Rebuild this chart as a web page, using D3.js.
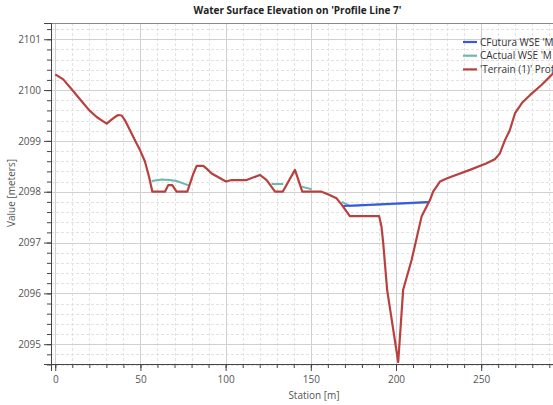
<!DOCTYPE html>
<html><head><meta charset="utf-8">
<script src="https://cdn.jsdelivr.net/npm/d3@7"></script>
<style>
html,body{margin:0;padding:0;background:#fff;}
svg{display:block;font-family:"Open Sans","Noto Sans",sans-serif;}
</style></head>
<body>
<svg id="chart" width="553" height="405"></svg>
<script>
const terrainX = [0,4.7,10,15,20,24.3,27,30.2,33,35,37,39,41,44,47,50,52.6,55,57,64.4,66.3,68.7,71.2,77.5,81,83,86.9,89,91.8,96,100.2,103.5,112.3,120.1,124.1,129,133.5,140.7,145,156.3,160,165.1,168,172.9,190.1,191.5,192.5,194.8,201.3,204.2,209.2,215,220,221.8,225.8,229.7,233.6,243.4,253.2,258,260.9,263.9,266.8,269.8,274,278.6,285.4,292.3];
const terrainY = [2100.31,2100.21,2100.0,2099.8,2099.6,2099.47,2099.41,2099.34,2099.42,2099.47,2099.51,2099.5,2099.4,2099.2,2099.0,2098.8,2098.6,2098.3,2098.0,2098.0,2098.13,2098.13,2098.0,2098.0,2098.35,2098.51,2098.51,2098.45,2098.36,2098.28,2098.2,2098.23,2098.23,2098.33,2098.23,2098.0,2098.0,2098.43,2098.0,2098.0,2097.95,2097.87,2097.75,2097.52,2097.52,2097.31,2096.99,2096.07,2094.65,2096.07,2096.66,2097.51,2097.84,2098.0,2098.2,2098.26,2098.31,2098.43,2098.56,2098.64,2098.75,2099.01,2099.21,2099.54,2099.75,2099.9,2100.1,2100.33];
const actualX = [56.6,62.4,67,71.2,78.7,null,127,133.8,null,144.6,150.4,null,168.2,172.9,219];
const actualY = [2098.21,2098.24,2098.23,2098.21,2098.12,null,2098.15,2098.15,null,2098.1,2098.05,null,2097.80,2097.72,2097.79];
const futuraX = [169,219];
const futuraY = [2097.72,2097.80];
const xTicks = [0,50,100,150,200,250];
const yTicks = [2095,2096,2097,2098,2099,2100,2101];
const seriesNames = ["CFutura WSE 'M","CActual WSE 'M","'Terrain (1)' Prof"];
const seriesColors = ["#3b55e6","#6fb5b0","#b8413f"];

const svg = d3.select("#chart");
const L = 51, R = 557, T = 23, B = 364;
const x = d3.scaleLinear().domain([-2.5, 294.5]).range([L, R]);
const y = d3.scaleLinear().domain([2094.61, 2101.32]).range([B, T]);

svg.append("defs").append("clipPath").attr("id","clip")
  .append("rect").attr("x",L).attr("y",T).attr("width",R-L).attr("height",B-T);

const grid = svg.append("g");
// minor grid
const xMinor = d3.range(0, 300, 10).filter(v => v % 50 !== 0);
const yMinor = d3.range(2094.6, 2101.35, 0.2).map(v => +v.toFixed(1)).filter(v => Math.abs(v - Math.round(v)) > 0.01);
grid.selectAll(".vx").data(xMinor).join("line")
  .attr("x1", d => Math.round(x(d))+0.5).attr("x2", d => Math.round(x(d))+0.5)
  .attr("y1", T).attr("y2", B).attr("stroke","#e2e2e2").attr("stroke-dasharray","3,2");
grid.selectAll(".hy").data(yMinor).join("line")
  .attr("y1", d => Math.round(y(d))+0.5).attr("y2", d => Math.round(y(d))+0.5)
  .attr("x1", L).attr("x2", R).attr("stroke","#e2e2e2").attr("stroke-dasharray","3,2");
grid.selectAll(".vX").data(xTicks).join("line")
  .attr("x1", d => Math.round(x(d))+0.5).attr("x2", d => Math.round(x(d))+0.5)
  .attr("y1", T).attr("y2", B).attr("stroke","#d0d0d0");
grid.selectAll(".hY").data(yTicks).join("line")
  .attr("y1", d => Math.round(y(d))+0.5).attr("y2", d => Math.round(y(d))+0.5)
  .attr("x1", L).attr("x2", R).attr("stroke","#d0d0d0");

// frame top
svg.append("line").attr("x1",L).attr("x2",R).attr("y1",T+0.5).attr("y2",T+0.5).attr("stroke","#888");

// axes
const xAxisMinor = d3.axisBottom(x).tickValues(d3.range(0,300,10)).tickSize(4).tickFormat("");
const xAxis = d3.axisBottom(x).tickValues(xTicks).tickSize(7).tickPadding(5);
const yAxisMinor = d3.axisLeft(y).tickValues(d3.range(2094.6,2101.35,0.2)).tickSize(4).tickFormat("");
const yAxis = d3.axisLeft(y).tickValues(yTicks).tickSize(7).tickPadding(3).tickFormat(d3.format("d"));

function styleAxis(g){
  g.select(".domain").attr("stroke","#444");
  g.selectAll(".tick line").attr("stroke","#444");
  g.selectAll("text").attr("fill","#555").attr("font-size","10px").attr("font-family","'Open Sans','Noto Sans',sans-serif");
}
svg.append("g").attr("transform",`translate(0,${B})`).call(xAxisMinor).call(styleAxis);
svg.append("g").attr("transform",`translate(0,${B})`).call(xAxis).call(styleAxis);
svg.append("g").attr("transform",`translate(${L},0)`).call(yAxisMinor).call(styleAxis);
svg.append("g").attr("transform",`translate(${L},0)`).call(yAxis).call(styleAxis);

// lines
const plot = svg.append("g").attr("clip-path","url(#clip)");
const lineGen = d3.line().defined(d => d[0] != null).x(d => x(d[0])).y(d => y(d[1]));
const actual = actualX.map((v,i) => [v, actualY[i]]);
const futura = futuraX.map((v,i) => [v, futuraY[i]]);
const terrain = terrainX.map((v,i) => [v, terrainY[i]]);
plot.append("path").attr("d", lineGen(actual)).attr("fill","none").attr("stroke",seriesColors[1]).attr("stroke-width",2);
plot.append("path").attr("d", lineGen(futura)).attr("fill","none").attr("stroke",seriesColors[0]).attr("stroke-width",2);
plot.append("path").attr("d", lineGen(terrain)).attr("fill","none").attr("stroke",seriesColors[2]).attr("stroke-width",2.2).attr("stroke-linejoin","round");

// title and labels
svg.append("text").attr("x",297.5).attr("y",14).attr("text-anchor","middle")
  .attr("font-size","10px").attr("font-weight","bold").attr("fill","#222")
  .text("Water Surface Elevation on 'Profile Line 7'");
svg.append("text").attr("x",314).attr("y",399).attr("text-anchor","middle")
  .attr("font-size","10px").attr("fill","#555").text("Station [m]");
svg.append("text").attr("transform","translate(15,193) rotate(-90)").attr("text-anchor","middle")
  .attr("font-size","10px").attr("fill","#555").text("Value [meters]");

// legend
const lg = svg.append("g");
seriesNames.forEach((n,i) => {
  const yy = 42 + i*13.7;
  lg.append("line").attr("x1",463).attr("x2",477).attr("y1",yy).attr("y2",yy)
    .attr("stroke",seriesColors[i]).attr("stroke-width",2.2);
  lg.append("text").attr("x",480).attr("y",yy+3.5).attr("font-size","10px").attr("fill","#333").text(n);
});
</script>
</body></html>
